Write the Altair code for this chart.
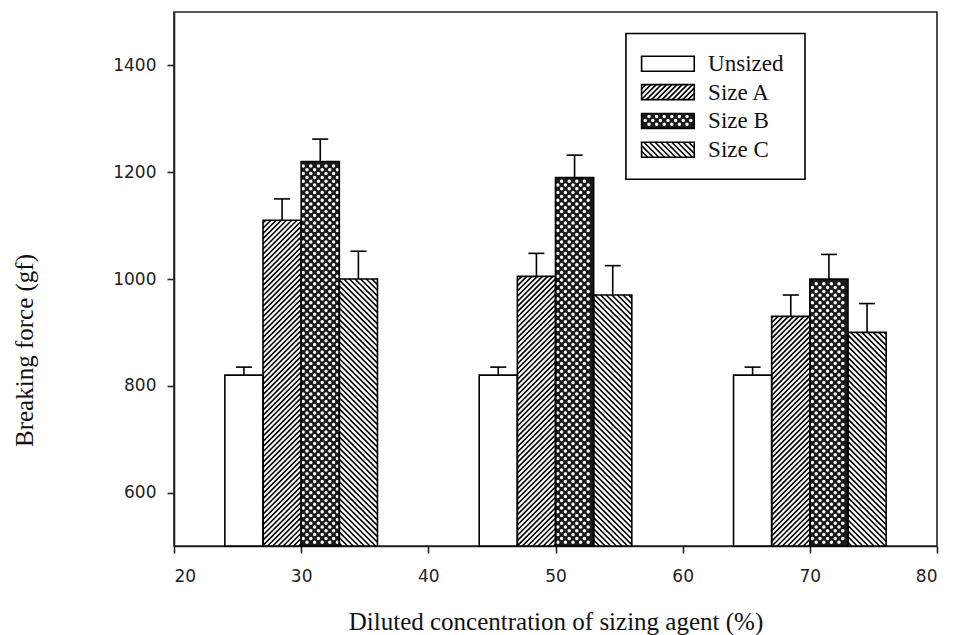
import altair as alt
import numpy as np
import pandas as pd

# ---------------- data ----------------
concentrations = [30, 50, 70]
series = ["Unsized", "Size A", "Size B", "Size C"]
unsized = [820, 820, 820]
size_a = [1110, 1005, 930]
size_b = [1220, 1190, 1000]
size_c = [1000, 970, 900]
err_unsized = [15, 15, 15]
err_a = [40, 43, 40]
err_b = [42, 42, 46]
err_c = [52, 55, 54]
x_ticks = [20, 30, 40, 50, 60, 70, 80]
y_ticks = [600, 800, 1000, 1200, 1400]

# ---------------- layout ----------------
W, H = 763, 534
XMIN, XMAX = 20, 80
YMIN, YMAX = 500, 1500
KX = W / (XMAX - XMIN)
KY = H / (YMAX - YMIN)
BAR_W = 3.0
CAP = 0.63

patterns = {"Unsized": None, "Size A": ("/", 5.2), "Size B": "dots", "Size C": ("\\", 5.6)}


def to_px(x, y):
    return (x - XMIN) * KX, (y - YMIN) * KY


def to_data(X, Y):
    return XMIN + X / KX, YMIN + Y / KY


def hatch(x0, x1, y0, y1, direction, sp):
    X0, Y0 = to_px(x0, y0)
    X1, Y1 = to_px(x1, y1)
    segs = []
    if direction == "/":
        c = np.ceil((Y0 - X1) / sp) * sp
        while c < Y1 - X0:
            xa, xb = max(X0, Y0 - c), min(X1, Y1 - c)
            if xb > xa:
                a = to_data(xa, xa + c)
                b = to_data(xb, xb + c)
                segs.append(dict(x=a[0], y=a[1], x2=b[0], y2=b[1]))
            c += sp
    else:
        c = np.ceil((Y0 + X0) / sp) * sp
        while c < Y1 + X1:
            xa, xb = max(X0, c - Y1), min(X1, c - Y0)
            if xb > xa:
                a = to_data(xa, c - xa)
                b = to_data(xb, c - xb)
                segs.append(dict(x=a[0], y=a[1], x2=b[0], y2=b[1]))
            c += sp
    return segs


def dots(x0, x1, y0, y1, pitch=3.8, inset=1.8):
    X0, Y0 = to_px(x0, y0)
    X1, Y1 = to_px(x1, y1)
    pts = []
    k = int(np.ceil((Y0 + inset) / pitch))
    while k * pitch < Y1 - inset:
        Y = k * pitch
        off = (k % 2) * pitch
        m = int(np.ceil((X0 + inset - off) / (2 * pitch)))
        while off + m * 2 * pitch < X1 - inset:
            X = off + m * 2 * pitch
            d = to_data(X, Y)
            pts.append(dict(x=d[0], y=d[1]))
            m += 1
        k += 1
    return pts


vals = [unsized, size_a, size_b, size_c]
errs = [err_unsized, err_a, err_b, err_c]
bar_rows, hatch_rows, dot_rows = [], [], []
for g, c in enumerate(concentrations):
    for i, s in enumerate(series):
        x0 = c - 2 * BAR_W + i * BAR_W
        v = vals[i][g]
        e = errs[i][g]
        xc = x0 + BAR_W / 2
        bar_rows.append(dict(series=s, x0=x0, x1=x0 + BAR_W, xc=xc, value=v,
                             top=v + e, base=YMIN, cl=xc - CAP, cr=xc + CAP))
        p = patterns[s]
        if p == "dots":
            dot_rows += dots(x0, x0 + BAR_W, YMIN, v)
        elif p is not None:
            hatch_rows += hatch(x0, x0 + BAR_W, YMIN, v, p[0], p[1])

# legend (in data units)
leg_box = [dict(x0=55.54, x1=69.62, y0=1186.7, y1=1459.6)]
leg_rows_y = [1403, 1350, 1296, 1242]
SW_X0, SW_X1, SW_HALF = 56.77, 60.91, 14
leg_sw, leg_text = [], []
for s, yy in zip(series, leg_rows_y):
    leg_sw.append(dict(series=s, x0=SW_X0, x1=SW_X1, y0=yy - SW_HALF, y1=yy + SW_HALF))
    leg_text.append(dict(label=s, x=62.0, y=yy - 14))
    p = patterns[s]
    if p == "dots":
        dot_rows += dots(SW_X0, SW_X1, yy - SW_HALF, yy + SW_HALF)
    elif p is not None:
        hatch_rows += hatch(SW_X0, SW_X1, yy - SW_HALF, yy + SW_HALF, p[0], p[1])

bars_df = pd.DataFrame(bar_rows)
hatch_df = pd.DataFrame(hatch_rows)
dots_df = pd.DataFrame(dot_rows)
box_df = pd.DataFrame(leg_box)
sw_df = pd.DataFrame(leg_sw)
txt_df = pd.DataFrame(leg_text)

# ---------------- encodings ----------------
XS = alt.Scale(domain=[XMIN, XMAX], nice=False, zero=False)
YS = alt.Scale(domain=[YMIN, YMAX], nice=False, zero=False)
X_AXIS = alt.Axis(values=x_ticks, format="d", title="Diluted concentration of sizing agent (%)",
                  labelPadding=15, titleY=83, titleBaseline="alphabetic")
Y_AXIS = alt.Axis(values=y_ticks, format="d", title="Breaking force (gf)", labelPadding=11,
                  titleX=-142, titleY=338, titleAngle=270, titleAlign="center",
                  titleBaseline="alphabetic")


def X(f):
    return alt.X(f, type="quantitative", scale=XS, axis=X_AXIS)


def Y(f):
    return alt.Y(f, type="quantitative", scale=YS, axis=Y_AXIS)


fill_scale = alt.Scale(domain=series, range=["white", "white", "#1a1a1a", "white"])

bar_fill = alt.Chart(bars_df).mark_rect(strokeWidth=0).encode(
    x=X("x0"), x2="x1", y=Y("value"), y2="base",
    fill=alt.Fill("series:N", scale=fill_scale, legend=None))

hatch_layer = alt.Chart(hatch_df).mark_rule(color="black", strokeWidth=1.6).encode(
    x=X("x"), y=Y("y"), x2="x2", y2="y2")

dot_layer = alt.Chart(dots_df).mark_point(filled=True, color="white", size=12, opacity=1,
                                          shape="circle").encode(x=X("x"), y=Y("y"))

bar_outline = alt.Chart(bars_df).mark_rect(fillOpacity=0, stroke="black", strokeWidth=1.6).encode(
    x=X("x0"), x2="x1", y=Y("value"), y2="base")

err_v = alt.Chart(bars_df).mark_rule(color="black", strokeWidth=1.6).encode(
    x=X("xc"), y=Y("value"), y2="top")
err_cap = alt.Chart(bars_df).mark_rule(color="black", strokeWidth=1.6).encode(
    x=X("cl"), x2="cr", y=Y("top"))

box_layer = alt.Chart(box_df).mark_rect(fill="white", stroke="black", strokeWidth=1.6).encode(
    x=X("x0"), x2="x1", y=Y("y0"), y2="y1")
sw_fill = alt.Chart(sw_df).mark_rect(strokeWidth=0).encode(
    x=X("x0"), x2="x1", y=Y("y0"), y2="y1",
    fill=alt.Fill("series:N", scale=fill_scale, legend=None))
sw_outline = alt.Chart(sw_df).mark_rect(fillOpacity=0, stroke="black", strokeWidth=1.6).encode(
    x=X("x0"), x2="x1", y=Y("y0"), y2="y1")
txt_layer = alt.Chart(txt_df).mark_text(align="left", baseline="alphabetic",
                                        font="Liberation Serif", fontSize=23,
                                        color="#111").encode(
    x=X("x"), y=Y("y"), text="label:N")

chart = alt.layer(
    bar_fill, box_layer, sw_fill, hatch_layer, dot_layer, bar_outline, sw_outline,
    err_v, err_cap, txt_layer
).properties(
    width=W, height=H,
    padding={"left": 174, "top": 12, "right": 16, "bottom": 89},
    autosize=alt.AutoSizeParams(type="none"),
).configure_view(
    stroke="#222", strokeWidth=1.6
).configure_axis(
    grid=False, domainColor="#222", domainWidth=1.6, tickColor="#222", tickWidth=1.6,
    tickSize=7, labelFont="DejaVu Sans", labelFontSize=17, labelColor="#222",
    titleFont="Liberation Serif", titleFontSize=25, titleFontWeight="normal",
    titleColor="#111"
)

chart.save("out.html", embed_options={"renderer": "svg", "actions": False})
